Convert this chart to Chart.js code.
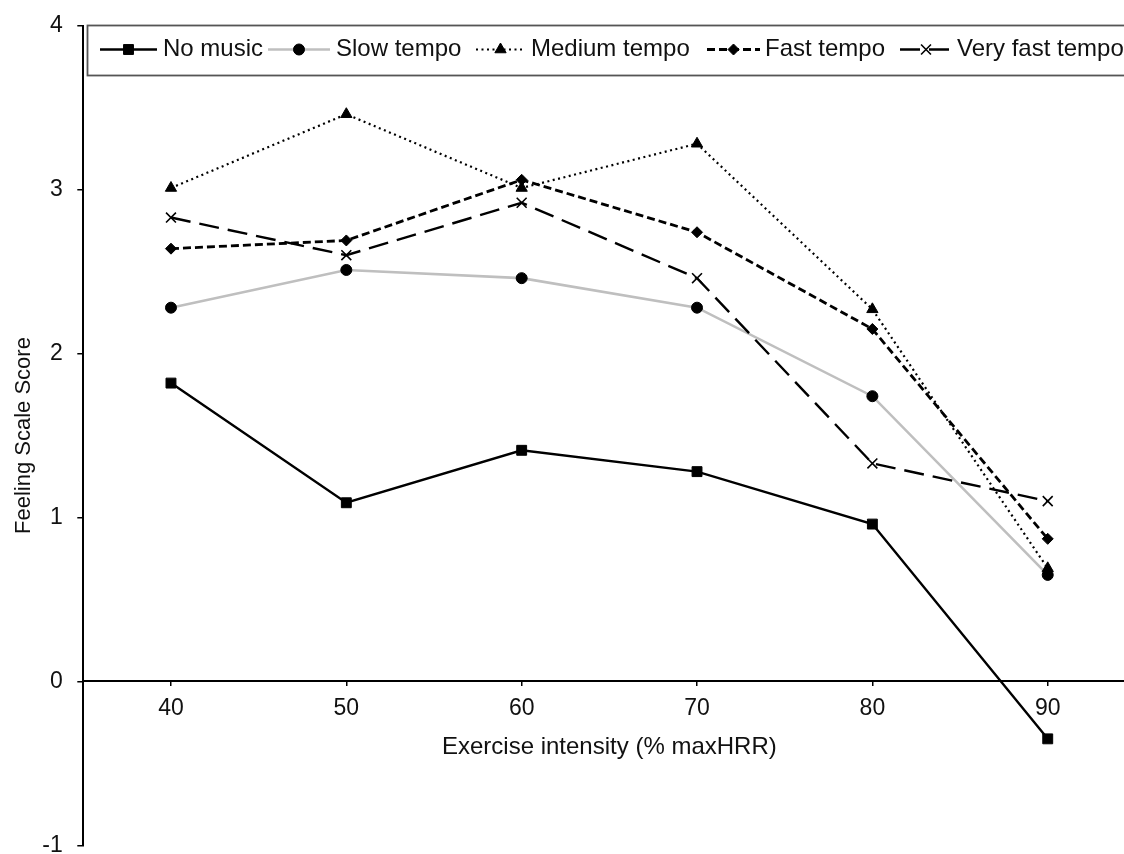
<!DOCTYPE html>
<html>
<head>
<meta charset="utf-8">
<script src="https://cdn.jsdelivr.net/npm/chart.js@4.4.1/dist/chart.umd.min.js"></script>
<style>
html, body { margin: 0; padding: 0; background: #fff; overflow: hidden; }
#clip { width: 1124px; height: 854px; overflow: hidden; position: relative; background: #fff; }
canvas { display: block; }
</style>
</head>
<body>
<div id="clip"><canvas id="c" width="1144" height="854"></canvas></div>
<script>
// ---- data ----
const categories = ['40', '50', '60', '70', '80', '90'];
const noMusic = [1.82, 1.09, 1.41, 1.28, 0.96, -0.35];
const slowTempo = [2.28, 2.51, 2.46, 2.28, 1.74, 0.65];
const mediumTempo = [3.01, 3.46, 3.01, 3.28, 2.27, 0.69];
const fastTempo = [2.64, 2.69, 3.06, 2.74, 2.15, 0.87];
const veryFastTempo = [2.83, 2.60, 2.92, 2.46, 1.33, 1.10];
const seriesNames = ['No music', 'Slow tempo', 'Medium tempo', 'Fast tempo', 'Very fast tempo'];
const yTicks = [-1, 0, 1, 2, 3, 4];
const xTitle = 'Exercise intensity (% maxHRR)';
const yTitle = 'Feeling Scale Score';

// ---- styles ----
const FONT = "'Liberation Sans', Arial, sans-serif";
const TEXT = '#111111';
const seriesValues = [noMusic, slowTempo, mediumTempo, fastTempo, veryFastTempo];
const styles = [
  { borderColor: '#000000', borderWidth: 2.4, borderDash: [], pointStyle: 'rect', pointRadius: 7, pointBorderWidth: 1 },
  { borderColor: '#BFBFBF', borderWidth: 2.6, borderDash: [], pointStyle: 'circle', pointRadius: 5.5, pointBorderWidth: 1 },
  { borderColor: '#000000', borderWidth: 2.2, borderDash: [2, 3.5], pointStyle: 'triangle', pointRadius: 6.5, pointBorderWidth: 1 },
  { borderColor: '#000000', borderWidth: 2.8, borderDash: [8, 4], pointStyle: 'rectRot', pointRadius: 5.5, pointBorderWidth: 1 },
  { borderColor: '#000000', borderWidth: 2.4, borderDash: [20, 9], pointStyle: 'crossRot', pointRadius: 7, pointBorderWidth: 1.6 }
];

const datasets = seriesNames.map((name, i) => ({
  label: name,
  data: seriesValues[i],
  borderColor: styles[i].borderColor,
  borderWidth: styles[i].borderWidth,
  borderDash: styles[i].borderDash,
  pointStyle: styles[i].pointStyle,
  pointRadius: styles[i].pointRadius,
  pointHoverRadius: styles[i].pointRadius,
  pointBorderWidth: styles[i].pointBorderWidth,
  pointBackgroundColor: '#000000',
  pointBorderColor: '#000000',
  tension: 0,
  fill: false,
  order: seriesNames.length - i
}));

// custom legend (Excel-like, line + marker)
const legendLayout = {
  box: { x: 87.5, y: 25.5, w: 1100, h: 50 },
  cy: 49.5,
  items: [
    { x1: 100, x2: 157, tx: 163 },
    { x1: 268, x2: 330, tx: 336 },
    { x1: 476, x2: 525, tx: 531 },
    { x1: 707, x2: 760, tx: 765 },
    { x1: 900, x2: 952, tx: 957 }
  ]
};

const excelLegend = {
  id: 'excelLegend',
  afterDraw(chart) {
    const ctx = chart.ctx;
    const L = legendLayout;
    ctx.save();
    ctx.fillStyle = '#ffffff';
    ctx.fillRect(L.box.x, L.box.y, L.box.w, L.box.h);
    ctx.strokeStyle = '#555555';
    ctx.lineWidth = 1.8;
    ctx.strokeRect(L.box.x, L.box.y, L.box.w, L.box.h);
    chart.data.datasets.forEach((ds, i) => {
      const it = L.items[i];
      ctx.save();
      ctx.strokeStyle = ds.borderColor;
      ctx.lineWidth = ds.borderWidth;
      ctx.setLineDash(ds.borderDash || []);
      ctx.beginPath();
      ctx.moveTo(it.x1, L.cy);
      ctx.lineTo(it.x2, L.cy);
      ctx.stroke();
      ctx.setLineDash([]);
      ctx.fillStyle = ds.pointBackgroundColor;
      ctx.strokeStyle = ds.pointBorderColor;
      ctx.lineWidth = ds.pointBorderWidth;
      Chart.helpers.drawPoint(ctx, { pointStyle: ds.pointStyle, radius: ds.pointRadius, rotation: 0, borderWidth: ds.pointBorderWidth },
        (it.x1 + it.x2) / 2, L.cy);
      ctx.restore();
      ctx.fillStyle = TEXT;
      ctx.font = '24px ' + FONT;
      ctx.textBaseline = 'middle';
      ctx.textAlign = 'left';
      ctx.fillText(ds.label, it.tx, L.cy);
    });
    ctx.restore();
  }
};

const X_BOX_H = 80.7;

new Chart(document.getElementById('c'), {
  type: 'line',
  data: { labels: categories, datasets: datasets },
  options: {
    responsive: false,
    animation: false,
    events: [],
    layout: { padding: { top: 25.7, left: 0, right: 0, bottom: 7 - X_BOX_H } },
    plugins: { legend: { display: false }, tooltip: { enabled: false } },
    scales: {
      x: {
        type: 'category',
        offset: true,
        position: { y: 0 },
        grid: { display: true, drawOnChartArea: false, drawTicks: true, tickLength: 4, offset: false, color: '#000', lineWidth: 1.5 },
        border: { display: true, color: '#000', width: 2 },
        ticks: { color: TEXT, font: { family: FONT, size: 23 }, padding: 9.5, maxRotation: 0, autoSkip: false },
        title: { display: true, text: xTitle, color: TEXT, font: { family: FONT, size: 24 }, padding: { top: 0, bottom: 0 } },
        afterFit(s) { s.height = X_BOX_H; s.paddingLeft = 0; s.paddingRight = 0; s.paddingTop = 0; s.paddingBottom = 0; }
      },
      y: {
        type: 'linear',
        position: 'left',
        min: yTicks[0],
        max: yTicks[yTicks.length - 1],
        afterBuildTicks(s) { s.ticks = yTicks.map(v => ({ value: v })); },
        grid: { display: true, drawOnChartArea: false, drawTicks: true, tickLength: 6, color: '#000', lineWidth: 1.5 },
        border: { display: true, color: '#000', width: 2 },
        ticks: { color: TEXT, font: { family: FONT, size: 23 }, padding: 14.6 },
        title: { display: true, text: yTitle, color: TEXT, font: { family: FONT, size: 22 }, padding: { top: 11, bottom: 0 } },
        afterFit(s) { s.width = 83.3; s.paddingTop = 0; s.paddingBottom = 0; s.paddingLeft = 0; s.paddingRight = 0; }
      }
    }
  },
  plugins: [excelLegend]
});
</script>
</body>
</html>
